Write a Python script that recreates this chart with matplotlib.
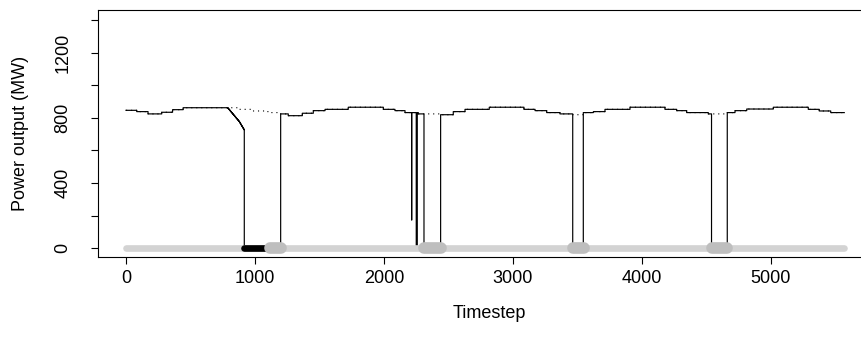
import matplotlib
matplotlib.use("Agg")
import matplotlib.pyplot as plt
import numpy as np

plt.rcParams['font.family'] = ['Liberation Sans', 'DejaVu Sans']

# available capacity, step profile (start timestep, MW)
cap_start = [0, 83, 171, 277, 361, 443, 870, 980, 1100, 1199, 1258, 1367, 1452,
             1543, 1723, 1995, 2085, 2163, 2266, 2439, 2537, 2628, 2816, 3085,
             3171, 3261, 3364, 3463, 3545, 3623, 3713, 3907, 4178, 4269, 4346,
             4514, 4661, 4721, 4812, 5018, 5289, 5374, 5463]
cap_mw = [847, 839, 825, 835, 851, 863, 853, 843, 833, 825, 814, 829, 845,
          853, 866, 853, 845, 833, 825, 820, 839, 853, 866, 853,
          845, 833, 825, 820, 833, 839, 853, 866, 853, 845, 833,
          825, 833, 845, 855, 866, 853, 843, 833]
last_step = 5568

# derating before the first outage
ramp_t = [788, 878, 917]
ramp_mw = [863, 778, 726]

# forced outages (output 0)
outage_start = [917, 2250, 2310, 3463, 4539]
outage_end = [1199, 2258, 2439, 3545, 4661]

# short partial dip
dip_t = [2214]
dip_mw = [172]

# status bar at the bottom
failed_start = [917]
failed_end = [1116]
repair_start = [1116, 2310, 3469, 4546]
repair_end = [1199, 2442, 3550, 4657]

x_ticks = [0, 1000, 2000, 3000, 4000, 5000]
y_ticks = [0, 200, 400, 600, 800, 1000, 1200, 1400]


def build_series():
    t = np.arange(0, last_step + 1)
    idx = np.searchsorted(cap_start, t, side='right') - 1
    cap = np.array(cap_mw, dtype=float)[idx]
    out = cap.copy()
    r = (t >= ramp_t[0]) & (t <= ramp_t[-1])
    out[r] = np.interp(t[r], ramp_t, ramp_mw)
    for s, e in zip(outage_start, outage_end):
        out[(t >= s) & (t < e)] = 0
    for d, v in zip(dip_t, dip_mw):
        out[t == d] = v
    return t, cap, out


def main():
    t, cap, out = build_series()

    fig = plt.figure(figsize=(8.62, 3.47), dpi=100)
    ax = fig.add_axes([98 / 862, 90 / 347, 782 / 862, 247.5 / 347])

    # capacity (dotted) and actual output
    ax.plot(t, cap, color='black', lw=0.8, linestyle=(0, (1, 3.5)),
            drawstyle='steps-post', zorder=2)
    ax.plot(t, out, color='black', lw=0.85, drawstyle='steps-post', zorder=3)

    # status bar on top
    ax.plot([0, last_step], [0, 0], color='#d3d3d3', lw=4.8,
            solid_capstyle='round', zorder=4)
    for s, e in zip(failed_start, failed_end):
        ax.plot([s, e], [0, 0], color='black', lw=4.8,
                solid_capstyle='round', zorder=5)
    for s, e in zip(repair_start, repair_end):
        ax.plot([s, e], [0, 0], color='#bebebe', lw=8.4,
                solid_capstyle='round', zorder=6)

    ax.set_xlim(-217, 5845)
    ax.set_ylim(-55, 1467)

    ax.set_xticks(x_ticks)
    ax.set_xticklabels([str(v) for v in x_ticks])
    ax.set_yticks(y_ticks)
    ax.set_yticklabels([str(v) if v % 400 == 0 else '' for v in y_ticks],
                       rotation=90, va='center')

    ax.tick_params(axis='both', direction='out', length=5.2, width=0.8,
                   labelsize=13)
    ax.tick_params(axis='x', pad=4)
    ax.tick_params(axis='y', pad=14)
    for sp in ax.spines.values():
        sp.set_linewidth(0.8)
    ax.spines['right'].set_visible(False)

    ax.set_xlabel('Timestep', fontsize=13, labelpad=13)
    ax.set_ylabel('Power output (MW)', fontsize=13, labelpad=18)

    fig.savefig('out.png', dpi=100)


if __name__ == "__main__":
    main()
